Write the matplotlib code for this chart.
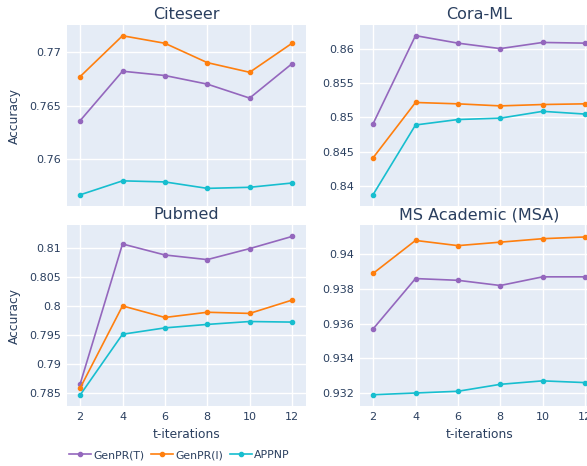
import matplotlib
matplotlib.use('Agg')
import matplotlib.pyplot as plt
from matplotlib.ticker import FuncFormatter, MultipleLocator

t_iters = [2, 4, 6, 8, 10, 12]
methods = ['GenPR(T)', 'GenPR(I)', 'APPNP']
colors = ['#9467bd', '#ff7f0e', '#17becf']

citeseer = {
    'GenPR(T)': [0.7636, 0.7682, 0.7678, 0.7670, 0.7657, 0.7689],
    'GenPR(I)': [0.7677, 0.7715, 0.7708, 0.7690, 0.7681, 0.7708],
    'APPNP': [0.7567, 0.7580, 0.7579, 0.7573, 0.7574, 0.7578],
}
cora_ml = {
    'GenPR(T)': [0.8491, 0.8620, 0.8609, 0.8601, 0.8610, 0.8609],
    'GenPR(I)': [0.8441, 0.8522, 0.8520, 0.8517, 0.8519, 0.8520],
    'APPNP': [0.8387, 0.8489, 0.8497, 0.8499, 0.8509, 0.8505],
}
pubmed = {
    'GenPR(T)': [0.7865, 0.8107, 0.8088, 0.8080, 0.8099, 0.8120],
    'GenPR(I)': [0.7858, 0.8000, 0.7980, 0.7989, 0.7987, 0.8010],
    'APPNP': [0.7846, 0.7951, 0.7962, 0.7968, 0.7973, 0.7972],
}
msa = {
    'GenPR(T)': [0.9357, 0.9386, 0.9385, 0.9382, 0.9387, 0.9387],
    'GenPR(I)': [0.9389, 0.9408, 0.9405, 0.9407, 0.9409, 0.9410],
    'APPNP': [0.9319, 0.9320, 0.9321, 0.9325, 0.9327, 0.9326],
}

panels = [
    ('Citeseer', citeseer, (0.75566, 0.7725), 0.005),
    ('Cora-ML', cora_ml, (0.83702, 0.86356), 0.005),
    ('Pubmed', pubmed, (0.7827, 0.81398), 0.005),
    ('MS Academic (MSA)', msa, (0.93125, 0.94169), 0.002),
]

TEXT = '#2a3f5f'
BG = '#E5ECF6'

fig = plt.figure(figsize=(5.87, 4.66), dpi=100)
W, H = 587, 466
# plot areas in pixels: (left, top, width, height)
boxes = [(67, 25, 239, 181), (360, 25, 239, 181),
         (67, 225, 239, 181), (360, 225, 239, 181)]

fmt = FuncFormatter(lambda v, p: '{:g}'.format(round(v, 6)))
lines = []
for i, (title, data, ylim, step) in enumerate(panels):
    l, t, w, h = boxes[i]
    ax = fig.add_axes([l / W, 1 - (t + h) / H, w / W, h / H])
    ax.set_facecolor(BG)
    for s in ax.spines.values():
        s.set_visible(False)
    ax.grid(True, color='white', linewidth=1)
    ax.set_axisbelow(True)
    lines = []
    for m, c in zip(methods, colors):
        ln, = ax.plot(t_iters, data[m], color=c, linewidth=1.2, marker='o',
                      markersize=3, label=m)
        lines.append(ln)
    ax.set_xlim(1.38, 12.66)
    ax.set_ylim(*ylim)
    ax.xaxis.set_major_locator(MultipleLocator(2))
    ax.yaxis.set_major_locator(MultipleLocator(step))
    ax.yaxis.set_major_formatter(fmt)
    ax.tick_params(length=0, labelsize=8, colors=TEXT, pad=4)
    ax.set_title(title, fontsize=11.5, color=TEXT, pad=4)
    if i < 2:
        ax.tick_params(labelbottom=False)
    else:
        ax.set_xlabel('t-iterations', fontsize=8.8, color=TEXT, labelpad=5)
    if i % 2 == 0:
        ax.set_ylabel('Accuracy', fontsize=8.8, color=TEXT, labelpad=6)

leg = fig.legend(lines, methods, loc='center left', bbox_to_anchor=(0.105, 0.023),
                 ncol=3, frameon=False, fontsize=7.8, handlelength=2.0,
                 columnspacing=0.6, handletextpad=0.25, borderpad=0.2)
for txt in leg.get_texts():
    txt.set_color(TEXT)

fig.savefig('out.png', dpi=100)
